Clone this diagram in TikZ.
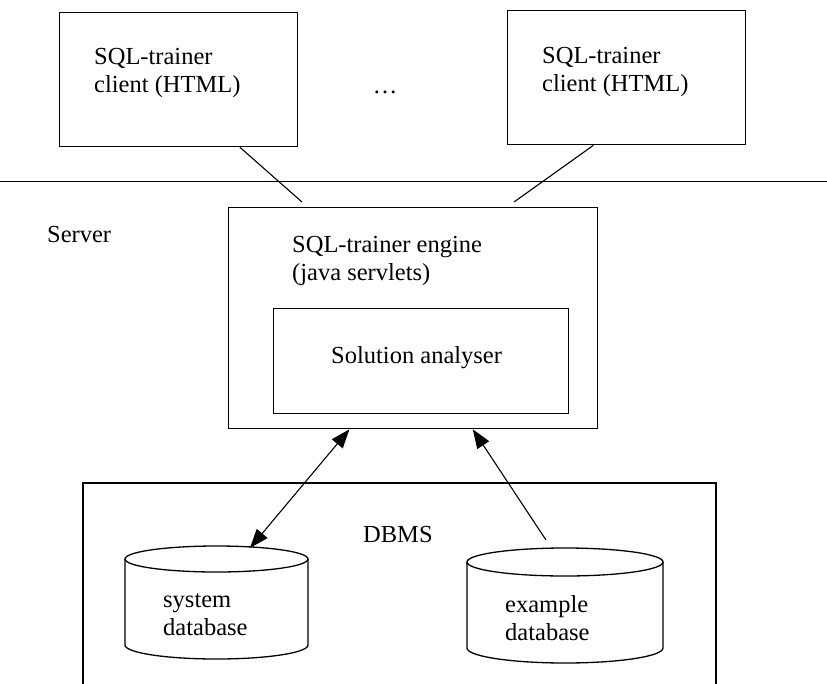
\documentclass[tikz,border=0pt]{standalone}
\usepackage{fontspec}
\setmainfont{Liberation Serif}
\usetikzlibrary{arrows.meta,calc}
\begin{document}
\begin{tikzpicture}[x=1pt,y=-1pt,
  box/.style={draw, line width=1.3pt, inner sep=0pt, anchor=north west},
  rim/.style={line width=1.3pt},
  lbl/.style={inner sep=0pt, anchor=base west, align=left,
              font=\fontsize{24.5}{28}\selectfont},
  wire/.style={line width=1.1pt},
  head/.tip={Triangle[length=19pt,width=14pt]},
  link/.style={line width=1.1pt, -head},
  dbl/.style={line width=1.1pt, head-head}]

\useasboundingbox (0,0) rectangle (827,683);

% client tier (multi-line labels are placed by their last baseline)
\node[box, minimum width=238pt, minimum height=134pt] (client1) at (59,12) {};
\node[box, minimum width=238pt, minimum height=134pt] (client2) at (507,10) {};
\node[lbl] (c1txt) at (94,92) {SQL-trainer\\client (HTML)};
\node[lbl] (c2txt) at (542,91) {SQL-trainer\\client (HTML)};
\node[lbl, anchor=base] (dots) at (385,93) {…};

% boundary between clients and server
\coordinate (sepL) at (0,181.5);
\coordinate (sepR) at (827,181.5);
\draw[wire] (sepL) -- (sepR);
\node[lbl] (server) at (47,242) {Server};

% server engine
\node[box, minimum width=369pt, minimum height=221pt] (engine) at (228,207) {};
\node[lbl] (etxt) at (292,280) {SQL-trainer engine\\(java servlets)};
\node[box, minimum width=295pt, minimum height=105pt] (analyser) at (273,308) {};
\node[lbl] (atxt) at (331,363) {Solution analyser};

% client links (stop short of the engine)
\coordinate (in1) at (302,202);
\coordinate (in2) at (514,202);
\draw[wire] ($(client1.south west)!0.756!(client1.south east)$) -- (in1);
\draw[wire] ($(client2.south west)!0.361!(client2.south east)$) -- (in2);

% DBMS frame, open at the bottom
\draw[rim] (83,684) -- (83,483) -- (716,483) -- (716,684);
\node[lbl] (dbms) at (363,542) {DBMS};

% system database cylinder
\draw[rim] (125,559) -- (125,645)
  arc[start angle=180, end angle=360, x radius=91.5pt, y radius=14pt] -- (308,559);
\draw[rim] (216.5,559) ellipse [x radius=91.5pt, y radius=13pt];
\node[lbl] (systxt) at (163,635) {system\\database};

% example database cylinder
\draw[rim] (467,562) -- (467,648)
  arc[start angle=180, end angle=360, x radius=98pt, y radius=15pt] -- (663,562);
\draw[rim] (565,562) ellipse [x radius=98pt, y radius=14pt];
\node[lbl] (extxt) at (505,640) {example\\database};

% engine <-> databases
\coordinate (e1) at ($(engine.south west)!0.328!(engine.south east)$);
\coordinate (e2) at ($(engine.south west)!0.661!(engine.south east)$);
\coordinate (systop) at (250,548);
\coordinate (exfoot) at (546,540);
\draw[dbl] (e1) -- (systop);
\draw[link] (exfoot) -- (e2);
\end{tikzpicture}
\end{document}
